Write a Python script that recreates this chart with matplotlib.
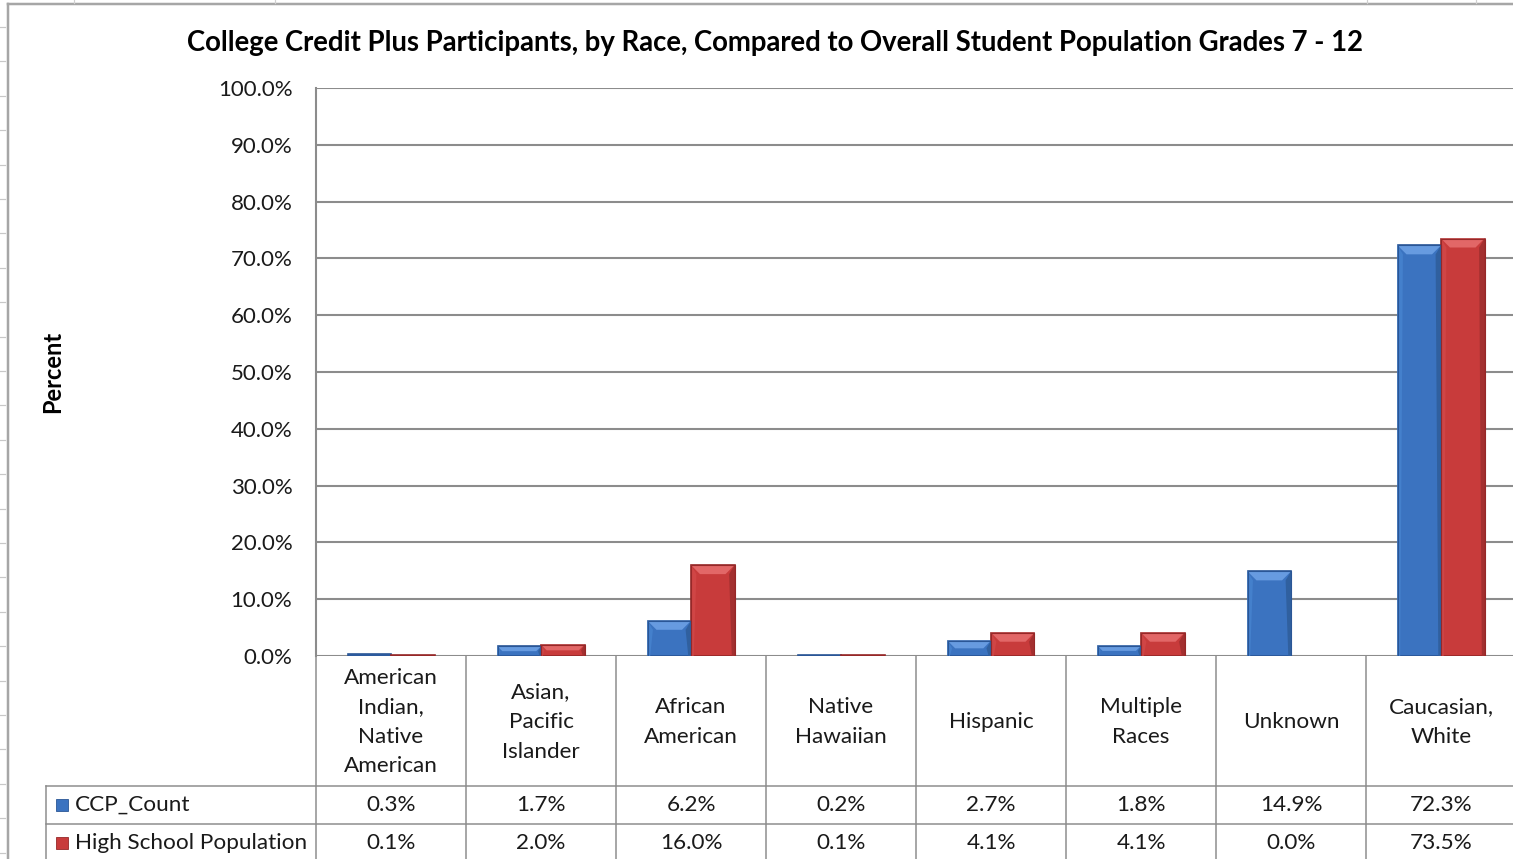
import matplotlib
matplotlib.use("Agg")
import matplotlib.pyplot as plt
from matplotlib.patches import Polygon, Rectangle
from matplotlib.lines import Line2D
import numpy as np

# ---- data ----
categories = ["American\nIndian,\nNative\nAmerican", "Asian,\nPacific\nIslander",
              "African\nAmerican", "Native\nHawaiian", "Hispanic", "Multiple\nRaces",
              "Unknown", "Caucasian,\nWhite"]
series_names = ["CCP_Count", "High School Population"]
ccp_count = [0.3, 1.7, 6.2, 0.2, 2.7, 1.8, 14.9, 72.3]
hs_population = [0.1, 2.0, 16.0, 0.1, 4.1, 4.1, 0.0, 73.5]
y_ticks = [0, 10, 20, 30, 40, 50, 60, 70, 80, 90, 100]
title = "College Credit Plus Participants, by Race, Compared to Overall Student Population Grades 7 - 12"
y_label = "Percent"

W, H = 1513, 859
FONT = "Lato"
TXT = "#1a1a1a"
GRID = "#8c8c8c"
FS = 16.2

fig = plt.figure(figsize=(W / 100, H / 100), dpi=100)
fig.patch.set_facecolor("white")

def fx(x):
    return x / W

def fy(y):
    return 1 - y / H

# axes: left 316px, right 1516px, top 88px, bottom 656px
ax = fig.add_axes([fx(316), fy(656), (1516 - 316) / W, (656 - 88) / H])
n = len(categories)
ax.set_xlim(-0.5, n - 0.5)
ax.set_ylim(0, 100)
ax.set_yticks(y_ticks)
ax.set_yticklabels([f"{v:.1f}%" for v in y_ticks], fontsize=16, family=FONT, color=TXT)
ax.tick_params(axis="y", length=0, pad=17)
ax.set_xticks([])
for s in ["top", "right", "bottom"]:
    ax.spines[s].set_visible(False)
ax.spines["left"].set_color(GRID)
ax.spines["left"].set_linewidth(1.5)
ax.yaxis.grid(True, color=GRID, linewidth=1.5)
ax.set_axisbelow(True)

x = np.arange(n)
bw = 0.29
colors = [dict(face="#3b73c0", top="#679be0", left="#4480cc", right="#30609f", edge="#2a5696"),
          dict(face="#c83b3b", top="#e26767", left="#d04545", right="#a33030", edge="#962828")]

bars_all = []
for k, vals in enumerate([ccp_count, hs_population]):
    c = colors[k]
    offs = (k - 0.5) * bw
    bars = ax.bar(x + offs, vals, width=bw, color=c["face"], edgecolor=c["edge"],
                  linewidth=[1.2 if v > 0 else 0 for v in vals], zorder=3)
    bars_all.append((bars, c))

inv = ax.transData.inverted()
for bars, c in bars_all:
    for r in bars:
        x0, y0 = r.get_x(), r.get_y()
        w, h = r.get_width(), r.get_height()
        if h <= 0:
            continue
        (X0, Y0) = ax.transData.transform((x0, y0))
        (X1, Y1) = ax.transData.transform((x0 + w, y0 + h))
        b = min(9.0, (Y1 - Y0) / 2.0)
        if b < 1.0:
            continue
        def to_data(pts):
            return inv.transform(np.array(pts))
        top = to_data([(X0, Y1), (X1, Y1), (X1 - b, Y1 - b), (X0 + b, Y1 - b)])
        left = to_data([(X0, Y0), (X0, Y1), (X0 + b * 0.6, Y1 - b), (X0 + b * 0.3, Y0)])
        right = to_data([(X1, Y0), (X1, Y1), (X1 - b * 0.6, Y1 - b), (X1 - b * 0.3, Y0)])
        ax.add_patch(Polygon(left, closed=True, facecolor=c["left"], edgecolor="none", zorder=4))
        ax.add_patch(Polygon(right, closed=True, facecolor=c["right"], edgecolor="none", zorder=4))
        ax.add_patch(Polygon(top, closed=True, facecolor=c["top"], edgecolor="none", zorder=4))
        ax.add_patch(Rectangle((x0, y0), w, h, facecolor="none", edgecolor=c["edge"],
                               linewidth=0.8, zorder=5))

# ---- title and axis label ----
fig.text(fx(775), fy(43), title, ha="center", va="center", fontsize=19.8,
         fontweight="bold", family=FONT, color="black")
fig.text(fx(53), fy(372), y_label, ha="center", va="center", rotation=90,
         fontsize=17, fontweight="bold", family=FONT, color="black")

# ---- data table ----
def line_px(x0, y0, x1, y1, color=GRID, lw=1.5):
    fig.add_artist(Line2D([fx(x0), fx(x1)], [fy(y0), fy(y1)], color=color,
                          linewidth=lw * 0.72, transform=fig.transFigure))

col_w = (1516 - 316) / n
for i in range(n + 1):
    xb = 316 + i * col_w
    line_px(xb, 656, xb, H + 5)
line_px(46, 786, W + 5, 786)
line_px(46, 824, W + 5, 824)
line_px(46, 786, 46, H + 5)

for i, cat in enumerate(categories):
    xc = 316 + (i + 0.5) * col_w
    fig.text(fx(xc), fy(722), cat, ha="center", va="center", fontsize=FS,
             family=FONT, color=TXT, linespacing=1.6)
    fig.text(fx(xc), fy(805), f"{ccp_count[i]:.1f}%", ha="center", va="center",
             fontsize=FS, family=FONT, color=TXT)
    fig.text(fx(xc), fy(843), f"{hs_population[i]:.1f}%", ha="center", va="center",
             fontsize=FS, family=FONT, color=TXT)

for k, (yc, name) in enumerate([(805, series_names[0]), (843, series_names[1])]):
    c = colors[k]
    fig.add_artist(Rectangle((fx(56), fy(yc + 6)), 12 / W, 12 / H, transform=fig.transFigure,
                             facecolor=c["face"], edgecolor=c["edge"], linewidth=0.6))
    fig.text(fx(75), fy(yc), name, ha="left", va="center", fontsize=FS,
             family=FONT, color=TXT)

# ---- chart-area border and spreadsheet grid glimpses ----
line_px(8, 4, 8, H + 5, color="#a6a6a6", lw=2.5)
line_px(8, 4, W + 5, 4, color="#a6a6a6", lw=2.5)
for xs in [74, 275, 1367, 1476]:
    line_px(xs, 0, xs, 3, color="#d0d0d0", lw=1.2)
for ys in np.arange(27, H, 34.4):
    line_px(0, ys, 5, ys, color="#c8c8c8", lw=1.2)

fig.savefig("out.png", dpi=100, facecolor="white")
